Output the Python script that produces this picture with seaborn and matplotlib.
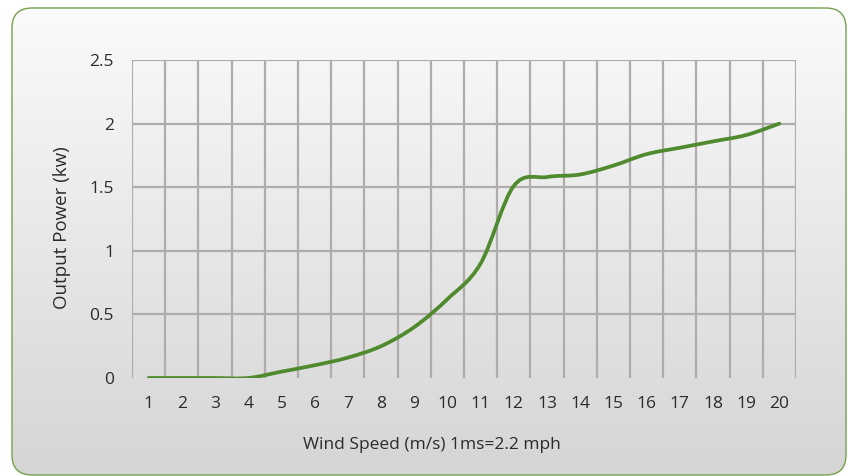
import numpy as np
import matplotlib
matplotlib.use("Agg")
import matplotlib.pyplot as plt
import seaborn as sns
from matplotlib.patches import FancyBboxPatch, PathPatch
from matplotlib.path import Path

# chart data
wind_speed = list(range(1, 21))
output_power = [0, 0, 0, 0, 0.05, 0.1, 0.16, 0.25, 0.4, 0.62,
                0.9, 1.51, 1.58, 1.6, 1.67, 1.76, 1.81, 1.86, 1.91, 2.0]
y_ticks = [0, 0.5, 1, 1.5, 2, 2.5]
y_tick_labels = ["0", "0.5", "1", "1.5", "2", "2.5"]
x_label = "Wind Speed (m/s) 1ms=2.2 mph"
y_label = "Output Power (kw)"

LINE_GREEN = "#4F8B2E"
GRID_GRAY = "#B0ACAC"
TEXT_COLOR = "#2B2B2B"
FONT_SIZE = 12.5


def smooth_path(xs, ys):
    # excel style smoothed line: cubic bezier through every point
    pts = np.column_stack([xs, ys]).astype(float)
    n = len(pts)
    verts = [pts[0]]
    codes = [Path.MOVETO]
    for i in range(n - 1):
        p_prev = pts[max(i - 1, 0)]
        p0 = pts[i]
        p1 = pts[i + 1]
        p_next = pts[min(i + 2, n - 1)]
        c1 = p0 + (p1 - p_prev) / 6.0
        c2 = p1 - (p_next - p0) / 6.0
        verts += [c1, c2, p1]
        codes += [Path.CURVE4] * 3
    return Path(verts, codes)


sns.set_theme(style="white")
plt.rcParams["font.family"] = ["Open Sans", "DejaVu Sans"]

W, H = 848, 476
fig = plt.figure(figsize=(W / 100, H / 100), dpi=100, facecolor="white")

# chart area: rounded frame with a soft vertical gradient
bg = fig.add_axes([0, 0, 1, 1], zorder=0)
bg.set_xlim(0, W)
bg.set_ylim(0, H)
bg.axis("off")
frame = FancyBboxPatch((12, 1), 834, 467,
                       boxstyle="round,pad=0,rounding_size=20",
                       facecolor="none", edgecolor="#76A04F", linewidth=1.0)
grad = np.linspace(0, 1, 256).reshape(-1, 1)
img = bg.imshow(grad, extent=(0, W, 0, H), origin="upper", aspect="auto",
                cmap=matplotlib.colors.LinearSegmentedColormap.from_list(
                    "bg", ["#FBFBFB", "#D5D5D5"]))
bg.add_patch(frame)
img.set_clip_path(frame)

# plot area
ax = fig.add_axes([132 / W, 1 - 378 / H, (796 - 132) / W, (378 - 60) / H], zorder=1)
ax.patch.set_alpha(0)
ax.set_xlim(0.5, 20.5)
ax.set_ylim(0, 2.5)

ax.set_xticks(wind_speed)
ax.set_xticklabels([str(v) for v in wind_speed])
ax.set_xticks(np.arange(0.5, 21, 1), minor=True)
ax.set_yticks(y_ticks)
ax.set_yticklabels(y_tick_labels)

ax.grid(which="minor", axis="x", color=GRID_GRAY, linewidth=1.6)
ax.grid(which="major", axis="y", color=GRID_GRAY, linewidth=1.6)
ax.grid(which="major", axis="x", visible=False)
ax.get_ygridlines()[0].set_visible(False)
ax.tick_params(which="both", length=0)
ax.tick_params(axis="y", pad=13, labelsize=FONT_SIZE, labelcolor=TEXT_COLOR)
ax.tick_params(axis="x", pad=13, labelsize=FONT_SIZE, labelcolor=TEXT_COLOR)
sns.despine(ax=ax, left=True, bottom=True)

curve = PathPatch(smooth_path(wind_speed, output_power), facecolor="none",
                  edgecolor=LINE_GREEN, linewidth=2.7, capstyle="round",
                  joinstyle="round", zorder=3)
ax.add_patch(curve)

fig.text(432 / W, 1 - 445 / H, x_label, ha="center", va="center",
         fontsize=FONT_SIZE, color=TEXT_COLOR)
fig.text(62 / W, 1 - 228 / H, y_label, ha="center", va="center",
         rotation=90, fontsize=FONT_SIZE + 1, color=TEXT_COLOR)

fig.savefig("out.png", dpi=100, facecolor="white")
